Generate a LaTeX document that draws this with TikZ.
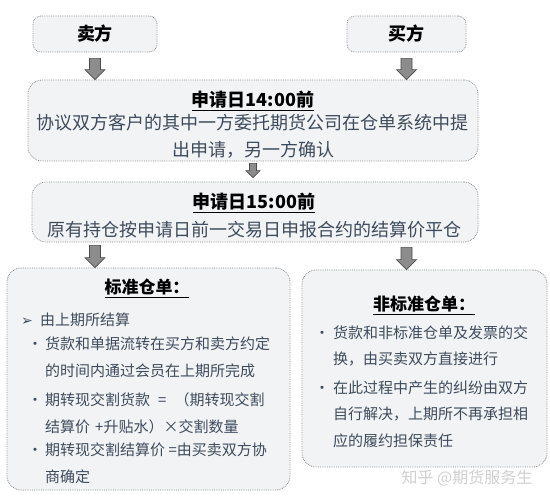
\documentclass[tikz,border=0pt]{standalone}
\usepackage{fontspec}
\setmainfont{Noto Sans CJK SC}
\newfontfamily\symbolfont{DejaVu Sans}
\usetikzlibrary{positioning,calc}

\definecolor{boxfill}{HTML}{F2F3F5}
\definecolor{boxline}{HTML}{8E8E8E}
\definecolor{bodytext}{HTML}{3E4B5B}
\definecolor{arrowfill}{HTML}{8C8C8C}
\definecolor{arrowline}{HTML}{4D4D4D}
\definecolor{markgray}{HTML}{CFCFCF}

% bold title with a thick rule under it
\newcommand{\titleline}[1]{\leavevmode\setbox0\hbox{\textbf{#1}}\rlap{\rule[-4.4pt]{\wd0}{1.2pt}}\box0}
% lines of one item, baseline on the first line
\newcommand{\itemlines}[2]{\parbox[t]{#1}{\fontsize{15}{26.5}\selectfont\raggedright #2}}

\begin{document}
\begin{tikzpicture}[x=1pt,y=-1pt,
    party box/.style={draw=boxline,densely dotted,line width=0.8pt,fill=boxfill,rounded corners=8pt,
        inner sep=0pt,text=black,font=\fontsize{18}{18}\selectfont\bfseries},
    stage box/.style={draw=boxline,densely dotted,line width=0.8pt,fill=boxfill,rounded corners=14pt,inner sep=0pt},
    stage title/.style={anchor=base,inner sep=0pt,text=black,font=\fontsize{18}{18}\selectfont},
    stage text/.style={anchor=base,inner sep=0pt,text=bodytext,font=\fontsize{18}{18}\selectfont},
    card title/.style={anchor=base,inner sep=0pt,text=black,font=\fontsize{17}{17}\selectfont},
    item text/.style={anchor=base west,inner sep=0pt,text=bodytext,font=\fontsize{15}{26.5}\selectfont},
    item dot/.style={anchor=base,inner sep=0pt,text=bodytext,font=\fontsize{15}{15}\selectfont},
    block arrow/.style n args={3}{draw=arrowline,fill=arrowfill,line width=0.6pt,solid,
        to path={let \p1=(\tikztostart),\p2=(\tikztotarget) in
            (\x1-#1,\y1) -- (\x1-#1,\y2+#3) -- (\x1-#2,\y2+#3) -- (\x1,\y2)
            -- (\x1+#2,\y2+#3) -- (\x1+#1,\y2+#3) -- (\x1+#1,\y1) -- cycle}},
    big arrow/.style={block arrow={5.5pt}{10pt}{10pt}},
    small arrow/.style={block arrow={3.5pt}{7pt}{7pt}}]

    \useasboundingbox (0,0) rectangle (550,500);

    % parties
    \node[party box,minimum width=124pt,minimum height=36pt] (seller) at (95,34) {卖方};
    \node[party box,minimum width=119pt,minimum height=36pt] (buyer) at (406.5,34) {买方};

    % application steps
    \node[stage box,minimum width=450pt,minimum height=81pt] (apply) at (253,120.5) {};
    \node[stage title] (applytitle) at (253,106.8) {\titleline{申请日14:00前}};
    \node[stage text] (applyline1) at (253,129.8) {协议双方客户的其中一方委托期货公司在仓单系统中提};
    \node[stage text] (applyline2) at (253,156.8) {出申请，另一方确认};

    \node[stage box,minimum width=446pt,minimum height=60pt] (close) at (255,212) {};
    \node[stage title] (closetitle) at (254,208.8) {\titleline{申请日15:00前}};
    \node[stage text] (closeline) at (255,236.8) {原有持仓按申请日前一交易日申报合约的结算价平仓};

    % standard warehouse receipt
    \node[stage box,minimum width=283pt,minimum height=222pt] (standard) at (148.5,379) {};
    \node[card title] (stdtitle) at (147,294) {\titleline{标准仓单：}};
    \node[item dot,font=\symbolfont\fontsize{14}{14}\selectfont] (stddot0) at (27,325.7) {➢};
    \node[item text] (stditem0) at (40,325.7) {由上期所结算};
    \node[item dot] (stddot1) at (35,350) {•};
    \node[item text] (stditem1) at (45,350) {\itemlines{240pt}{货款和单据流转在买方和卖方约定\\的时间内通过会员在上期所完成}};
    \node[item dot] (stddot2) at (35,406) {•};
    \node[item text] (stditem2) at (45,406) {\itemlines{240pt}{期转现交割货款\hspace{8pt}=\hspace{8pt}（期转现交割\\结算价\hspace{5pt}+升贴水）×交割数量}};
    \node[item dot] (stddot3) at (35,456) {•};
    \node[item text] (stditem3) at (45,456) {\itemlines{240pt}{期转现交割结算价 =由买卖双方协\\商确定}};

    % non-standard warehouse receipt
    \node[stage box,minimum width=245pt,minimum height=197pt] (nonstandard) at (424.5,368.5) {};
    \node[card title] (nstdtitle) at (424,311) {\titleline{非标准仓单：}};
    \node[item dot] (nstddot1) at (322,338.2) {•};
    \node[item text] (nstditem1) at (333,338.2) {\itemlines{210pt}{货款和非标准仓单及发票的交\\换，由买卖双方直接进行}};
    \node[item dot] (nstddot2) at (322,393.2) {•};
    \node[item text] (nstditem2) at (333,393.2) {\itemlines{210pt}{在此过程中产生的纠纷由双方\\自行解决，上期所不再承担相\\应的履约担保责任}};

    \node[anchor=base,inner sep=0pt,text=markgray,font=\fontsize{16}{16}\selectfont] (mark) at (467,483) {知乎 @期货服务生};

    % flow arrows
    \draw[big arrow] ([yshift=-6pt]seller.south) to (seller.south |- apply.north);
    \draw[big arrow] ([yshift=-6pt]buyer.south) to (buyer.south |- apply.north);
    \draw[small arrow] ([yshift=-2pt]apply.south) to ([yshift=4pt]apply.south |- close.north);
    \draw[big arrow] ([yshift=-3pt]seller.south |- close.south) to (seller.south |- standard.north);
    \draw[big arrow] ([yshift=-5pt]buyer.south |- close.south) to (buyer.south |- nonstandard.north);
\end{tikzpicture}
\end{document}
